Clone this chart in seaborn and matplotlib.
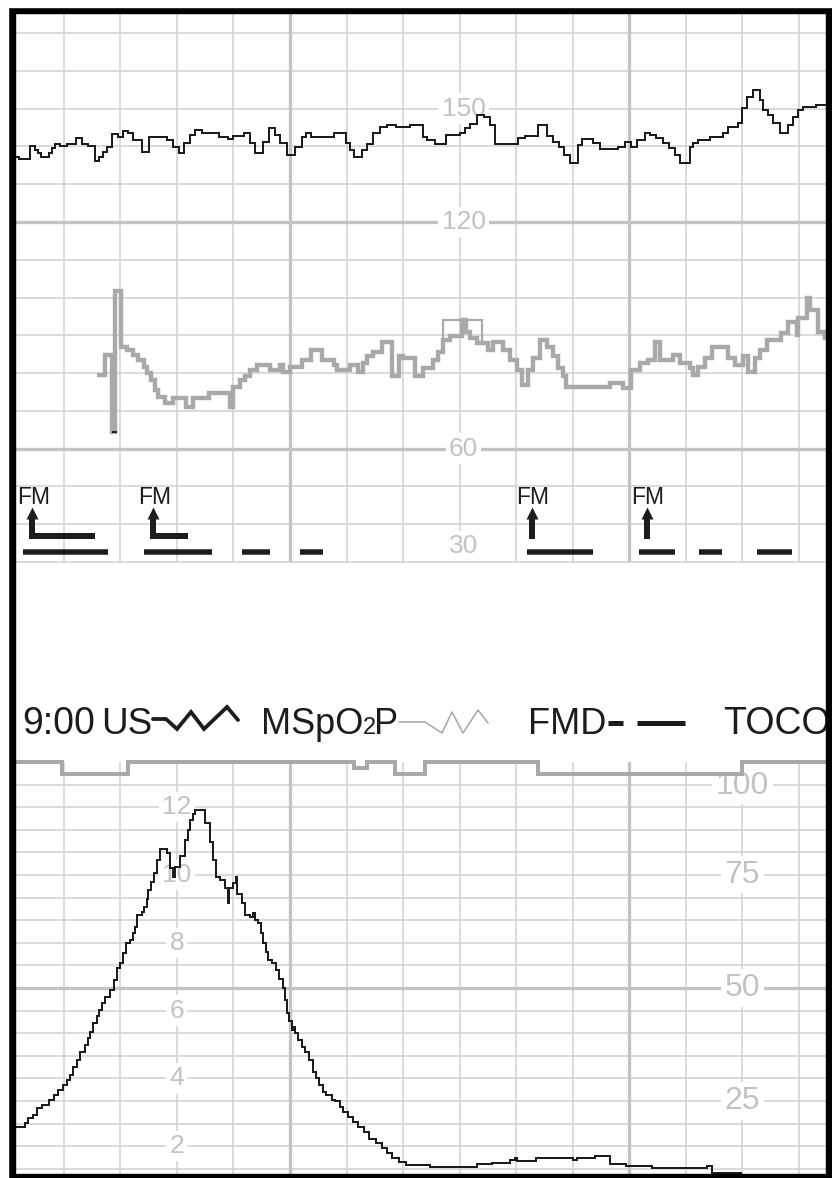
import numpy as np
import pandas as pd
import matplotlib
matplotlib.use("Agg")
import matplotlib.pyplot as plt
from matplotlib.patches import Rectangle
import seaborn as sns

# ---------------- data ----------------
# time axis in seconds; minor grid every 10 s, major every 60 s
time_minor = [20, 30, 40, 50, 70, 80, 90, 100, 110, 130, 140, 150]
time_major = [60, 120]

# fetal heart rate (US), bpm
fhr_t = [11.4, 12.0, 14.1, 14.9, 15.5, 15.9, 17.4, 17.9, 18.4, 19.3, 20.5, 22.2, 23.3, 24.2, 25.5, 26.2, 27.0,
         27.7, 28.5, 29.5, 30.5, 31.4, 32.3, 33.8, 35.0, 38.2, 39.4, 40.3, 41.3, 42.3, 43.2, 44.4, 47.5, 49.1,
         49.9, 51.8, 53.0, 53.8, 55.3, 56.3, 57.4, 58.2, 59.5, 60.9, 62.1, 62.8, 63.8, 67.7, 69.9, 70.6, 71.3,
         72.7, 73.6, 74.7, 75.9, 77.1, 78.8, 81.2, 83.6, 84.2, 85.6, 87.6, 90.1, 91.0, 91.8, 93.0, 94.3, 95.4,
         96.2, 100.4, 101.6, 103.9, 105.4, 106.6, 107.6, 108.5, 109.5, 111.0, 111.6, 113.6, 114.9, 118.1,
         119.2, 120.4, 121.4, 122.8, 123.7, 124.8, 126.0, 127.1, 128.1, 129.0, 130.7, 131.3, 132.2, 134.3,
         136.6, 137.5, 139.3, 139.9, 140.8, 141.9, 143.1, 143.7, 144.6, 145.5, 146.6, 148.1, 149.0, 149.9,
         150.8, 153.1, 154.8]
fhr_bpm = [137.3, 136.7, 140.2, 139.0, 138.2, 137.3, 138.2, 139.5, 140.6, 140.2, 140.6, 142.1, 140.6, 140.2,
           136.0, 137.3, 138.6, 139.9, 143.2, 142.6, 144.2, 143.5, 141.7, 138.6, 142.4, 141.7, 139.9, 138.3,
           140.8, 143.0, 144.3, 143.6, 142.4, 141.9, 142.8, 143.6, 141.0, 138.3, 141.2, 144.8, 143.0, 140.8,
           137.7, 139.9, 142.6, 143.6, 142.6, 143.5, 140.8, 139.0, 137.1, 139.0, 140.6, 143.5, 145.0, 145.7,
           145.2, 145.7, 142.6, 141.7, 140.6, 143.0, 143.6, 144.8, 145.9, 148.3, 147.7, 145.7, 140.6, 142.1,
           142.8, 145.7, 142.8, 141.2, 139.9, 137.7, 135.5, 140.4, 141.9, 140.8, 139.2, 139.9, 141.2, 139.9,
           141.7, 143.6, 143.0, 142.1, 140.8, 139.5, 137.7, 135.5, 139.9, 140.8, 141.7, 142.6, 143.6, 145.2,
           146.1, 150.1, 153.2, 154.9, 152.3, 149.6, 148.3, 146.1, 143.5, 145.7, 147.9, 149.6, 150.5, 151.0,
           151.0]

# maternal pulse from SpO2 sensor (MSpO2P), bpm
mp_t = [25.8, 27.3, 28.5, 29.1, 30.2, 31.1, 32.3, 33.2, 34.1, 34.7, 35.5, 36.1, 36.7, 37.9, 39.4, 41.7, 42.9,
        45.6, 49.4, 50.0, 51.2, 52.0, 52.9, 54.1, 56.5, 58.2, 58.8, 60.0, 62.1, 63.8, 65.6, 67.7, 68.3, 70.6,
        72.1, 73.0, 73.6, 74.7, 76.2, 78.0, 79.2, 80.0, 82.2, 83.6, 85.3, 86.2, 87.1, 88.3, 90.4, 91.2, 91.8,
        93.0, 95.1, 95.9, 97.7, 98.9, 100.1, 101.0, 102.1, 103.0, 104.2, 105.4, 106.6, 107.4, 108.3, 108.9,
        116.6, 118.9, 120.4, 121.9, 123.4, 124.5, 125.4, 127.8, 129.0, 130.7, 131.3, 132.2, 133.4, 134.6,
        137.5, 138.7, 140.2, 141.0, 142.2, 143.1, 144.3, 146.9, 148.1, 149.6, 149.9, 151.4, 151.9, 153.4,
        154.6, 154.8]
mp_bpm = [79.5, 84.8, 64.5, 101.6, 87.0, 86.1, 84.8, 83.5, 81.7, 80.0, 78.2, 75.5, 73.8, 72.0, 73.3, 71.1,
          73.3, 74.7, 71.1, 76.4, 78.2, 79.1, 80.8, 82.2, 80.8, 82.2, 80.4, 81.7, 83.5, 86.1, 83.5, 82.2, 80.8,
          82.2, 80.4, 82.6, 84.4, 85.7, 88.1, 79.3, 84.5, 83.9, 79.3, 81.3, 83.5, 85.7, 88.8, 89.7, 94.1, 91.0,
          89.2, 87.9, 86.1, 88.3, 86.1, 83.5, 80.8, 76.9, 80.8, 83.9, 88.8, 87.0, 84.4, 81.3, 79.1, 76.4, 77.3,
          76.0, 80.8, 82.6, 83.5, 88.3, 83.5, 84.8, 82.6, 81.3, 79.5, 81.7, 83.9, 87.0, 83.9, 82.2, 84.4, 80.4,
          83.9, 86.1, 88.8, 90.5, 93.6, 90.1, 94.5, 99.8, 96.7, 91.0, 89.2, 89.2]
# short overlapping MSpO2P segment
mp2_t = [87.1, 87.1, 93.9, 93.9]
mp2_bpm = [88.8, 94.1, 94.1, 87.9]

# fetal movement marks and FMD intervals
fm_times = [14.4, 35.8, 102.8, 123.1]
fm_l_start = [14.4, 35.8]
fm_l_end = [25.5, 42.0]
fmd_start = [12.8, 34.2, 51.5, 61.8, 101.9, 121.7, 132.3, 142.6]
fmd_end = [27.8, 46.2, 56.5, 65.8, 113.6, 128.1, 136.4, 148.8]

# uterine activity (TOCO), mmHg
toco_t = [11.4, 13.1, 13.7, 14.6, 15.2, 16.1, 17.3, 18.2, 19.0, 19.9, 20.5, 21.1, 21.7, 22.3, 22.9, 23.7,
          24.3, 24.6, 25.2, 25.8, 26.3, 26.7, 27.3, 28.2, 28.8, 29.4, 29.9, 30.5, 31.0, 31.7, 32.3, 32.6,
          32.9, 33.8, 34.2, 34.7, 34.9, 35.5, 36.0, 36.4, 37.1, 38.2, 38.8, 39.3, 39.7, 40.5, 41.4, 42.0,
          42.4, 42.9, 43.2, 45.0, 45.9, 46.3, 47.0, 47.6, 48.5, 49.0, 49.3, 49.9, 50.5, 50.7, 51.5, 52.0,
          52.9, 53.5, 53.8, 54.4, 54.8, 55.3, 55.8, 56.2, 56.8, 57.5, 58.1, 58.7, 59.1, 59.4, 59.9, 60.3,
          60.7, 60.9, 61.5, 62.1, 62.7, 63.4, 64.0, 64.6, 65.2, 65.8, 66.4, 67.4, 68.0, 68.8, 69.4, 70.3,
          71.2, 72.1, 73.1, 73.9, 75.3, 76.2, 77.1, 78.0, 79.2, 80.6, 84.8, 93.0, 95.7, 98.9, 99.8, 100.1,
          103.6, 104.8, 110.1, 110.7, 113.9, 116.6, 119.5, 124.0, 133.7, 134.6, 139.9]
toco_mmhg = [19.3, 20.1, 21.2, 21.9, 23.4, 24.1, 25.2, 26.3, 27.4, 28.5, 29.6, 30.8, 32.6, 34.1, 35.9, 37.4,
             38.9, 40.3, 42.2, 43.7, 45.1, 46.6, 48.1, 49.6, 51.8, 54.4, 55.5, 57.7, 59.9, 60.6, 62.1, 63.6,
             66.2, 66.9, 68.0, 69.8, 71.7, 73.5, 75.4, 78.3, 80.7, 79.8, 76.5, 74.6, 76.8, 79.1, 82.7, 85.0,
             87.2, 88.6, 89.4, 86.4, 82.4, 78.3, 74.6, 73.9, 72.1, 68.7, 72.1, 73.2, 74.6, 70.9, 68.7, 66.2,
             65.8, 66.5, 65.0, 64.3, 62.1, 59.9, 58.0, 56.2, 55.5, 54.0, 52.1, 49.9, 47.3, 44.4, 42.6, 40.7,
             41.4, 40.0, 38.5, 37.0, 35.9, 34.1, 31.5, 30.0, 28.5, 27.1, 26.3, 25.2, 24.9, 23.7, 22.6, 21.5,
             20.4, 19.3, 18.2, 16.7, 15.6, 14.5, 13.4, 12.3, 11.6, 10.8, 10.3, 11.1, 11.2, 11.9, 12.3, 11.7,
             12.3, 12.5, 11.9, 12.5, 12.8, 11.1, 10.6, 10.1, 10.6, 9.0, 9.0]

# maternal SpO2, %
spo2_t = [11.4, 19.7, 31.4, 71.3, 73.6, 78.6, 83.9, 103.9, 139.9, 154.8]
spo2_pct = [100, 97.3, 100, 98.7, 100, 97.3, 100, 97.3, 100, 100]

# scale labels
upper_minor = [30, 40, 50, 70, 80, 90, 100, 110, 130, 140, 150, 160, 170]
upper_major = [60, 120]
upper_labels = [150, 120, 60, 30]
lower_minor = [10, 15, 20, 25, 30, 35, 40, 45, 55, 60, 65, 70, 75, 80, 85, 90, 95]
lower_major = [50]
kpa_labels = [2, 4, 6, 8, 10, 12]
mmhg_labels = [25, 50, 75, 100]
KPA_TO_MMHG = 7.5

# ---------------- style ----------------
sns.set_style("white")
plt.rcParams['font.family'] = ['Liberation Sans', 'DejaVu Sans']

W, H = 832, 1178
PT = 0.72  # points per pixel at 100 dpi
MINOR = '#d3d3d3'
MAJOR = '#c3c3c3'
LABEL = '#c2c2c2'
TRACE_GRAY = '#a9a9a9'
INK = '#1c1c1c'
XLIM = (11.37, 154.8)

fig = plt.figure(figsize=(W / 100, H / 100), dpi=100)


def px_axes(left, top, right, bottom):
    return fig.add_axes([left / W, 1 - bottom / H, (right - left) / W, (bottom - top) / H])


def step_line(ax, t, v, color, lw, zorder=3, clip=True):
    df = pd.DataFrame({'t': t, 'v': v})
    sns.lineplot(data=df, x='t', y='v', ax=ax, estimator=None, sort=False,
                 drawstyle='steps-post', color=color, linewidth=lw, legend=False,
                 zorder=zorder, solid_joinstyle='miter', solid_capstyle='butt',
                 clip_on=clip)


def clean(ax):
    ax.set_xlabel('')
    ax.set_ylabel('')
    ax.set_xticks([])
    ax.set_yticks([])
    for s in ax.spines.values():
        s.set_visible(False)
    ax.set_facecolor('none')


def label(ax, x, y, s, size, dy=0):
    ax.annotate(s, xy=(x, y), xytext=(0, dy), textcoords='offset points',
                ha='center', va='center', color=LABEL, fontsize=size, zorder=1.5,
                annotation_clip=False,
                bbox=dict(boxstyle='square,pad=0.12', fc='white', ec='none'))


# ---------------- upper panel: FHR / maternal pulse ----------------
ax_up = px_axes(15, 13, 826, 562)
ax_up.set_xlim(*XLIM)
ax_up.set_ylim(30, 175.3)
for t in time_minor:
    ax_up.axvline(t, color=MINOR, lw=1.6 * PT, zorder=0)
for t in time_major:
    ax_up.axvline(t, color=MAJOR, lw=3.3 * PT, zorder=0.5)
for v in upper_minor:
    ax_up.axhline(v, color=MINOR, lw=1.6 * PT, zorder=0, clip_on=False)
for v in upper_major:
    ax_up.axhline(v, color=MAJOR, lw=3.3 * PT, zorder=0.5)

for v in upper_labels:
    label(ax_up, 90.7, v, str(v), 19, dy=11.5 if v == 30 else 0)

step_line(ax_up, mp_t, mp_bpm, TRACE_GRAY, 4.4 * PT)
step_line(ax_up, mp2_t, mp2_bpm, TRACE_GRAY, 2.2 * PT)
step_line(ax_up, fhr_t, fhr_bpm, INK, 2.0 * PT, zorder=4)
ax_up.hlines(64.3, 28.6, 29.4, color=INK, lw=2 * PT, zorder=4)

# fetal movement arrows and FMD bars
for t in fm_times:
    ax_up.vlines(t, 36.1, 42.0, color=INK, lw=6 * PT, zorder=5)
    ax_up.plot([t], [43.0], marker='^', ms=12 * PT, color=INK, mec='none', zorder=5)
    ax_up.text(t + 0.2, 45.4, 'FM', ha='center', va='baseline', fontsize=16.5,
               color=INK, zorder=5)
for a, b in zip(fm_l_start, fm_l_end):
    ax_up.hlines(36.9, a - 0.53, b, color=INK, lw=6 * PT, zorder=5)
for a, b in zip(fmd_start, fmd_end):
    ax_up.hlines(32.6, a, b, color=INK, lw=5.5 * PT, zorder=5)
clean(ax_up)

# ---------------- lower panel: TOCO / maternal SpO2 ----------------
ax_lo = px_axes(15, 762, 826, 1174)
ax_lo.set_xlim(*XLIM)
ax_lo.set_ylim(8.85, 100.0)
for t in time_minor:
    ax_lo.axvline(t, color=MINOR, lw=1.6 * PT, zorder=0)
for t in time_major:
    ax_lo.axvline(t, color=MAJOR, lw=3.3 * PT, zorder=0.5)
for v in lower_minor:
    ax_lo.axhline(v, color=MINOR, lw=1.6 * PT, zorder=0)
for v in lower_major:
    ax_lo.axhline(v, color=MAJOR, lw=3.3 * PT, zorder=0.5)

for k in kpa_labels:
    label(ax_lo, 40, k * KPA_TO_MMHG, str(k), 19)
for v in mmhg_labels:
    label(ax_lo, 140, v, str(v), 23, dy=-17 if v == 100 else 0)

step_line(ax_lo, spo2_t, spo2_pct, TRACE_GRAY, 4.0 * PT, clip=False)
step_line(ax_lo, toco_t, toco_mmhg, INK, 2.0 * PT, zorder=4)
clean(ax_lo)

# ---------------- header row and frame ----------------
ov = fig.add_axes([0, 0, 1, 1])
ov.set_xlim(0, W)
ov.set_ylim(H, 0)
ov.axis('off')
ov.patch.set_alpha(0)

base = 734
big = 27
ov.text(22, base, '9:00', fontsize=big, color=INK, va='baseline')
ov.text(101, base, 'US', fontsize=26.5, color=INK, va='baseline')
ov.plot([153, 166, 177, 191, 204, 227, 238], [719, 719, 729, 712, 729, 707, 720],
        color=INK, lw=3.8 * PT, solid_joinstyle='miter')

renderer = fig.canvas.get_renderer()
t1 = ov.text(261, base, 'MSpO', fontsize=26, color=INK, va='baseline')
x2 = t1.get_window_extent(renderer).x1
t2 = ov.text(x2 - 1.0, base, '2', fontsize=17, color=INK, va='baseline')
x3 = t2.get_window_extent(renderer).x1
ov.text(x3 - 1.5, base, 'P', fontsize=26, color=INK, va='baseline')
ov.plot([399, 425, 442, 452, 463, 478, 488], [722, 722, 733, 712, 733, 710, 723],
        color=TRACE_GRAY, lw=1.6 * PT)

ov.text(528, base, 'FMD', fontsize=26, color=INK, va='baseline')
ov.plot([608, 623], [723, 723], color=INK, lw=5 * PT, solid_capstyle='butt')
ov.plot([637, 685], [723, 723], color=INK, lw=5 * PT, solid_capstyle='butt')
ov.text(723, base, 'TOCO', fontsize=big, color=INK, va='baseline', clip_on=True)

# black frame with white margin above and left of it
ov.add_patch(Rectangle((826, 0), 10, H, color='black', zorder=10))
ov.add_patch(Rectangle((8, 7), 7, H, color='black', zorder=10))
ov.add_patch(Rectangle((8, 7), W, 6, color='black', zorder=10))
ov.add_patch(Rectangle((8, 1174), W, 6, color='black', zorder=10))
ov.add_patch(Rectangle((0, 0), 8, H, color='white', zorder=11))
ov.add_patch(Rectangle((0, 0), W, 7, color='white', zorder=11))

fig.savefig('out.png', dpi=100)
